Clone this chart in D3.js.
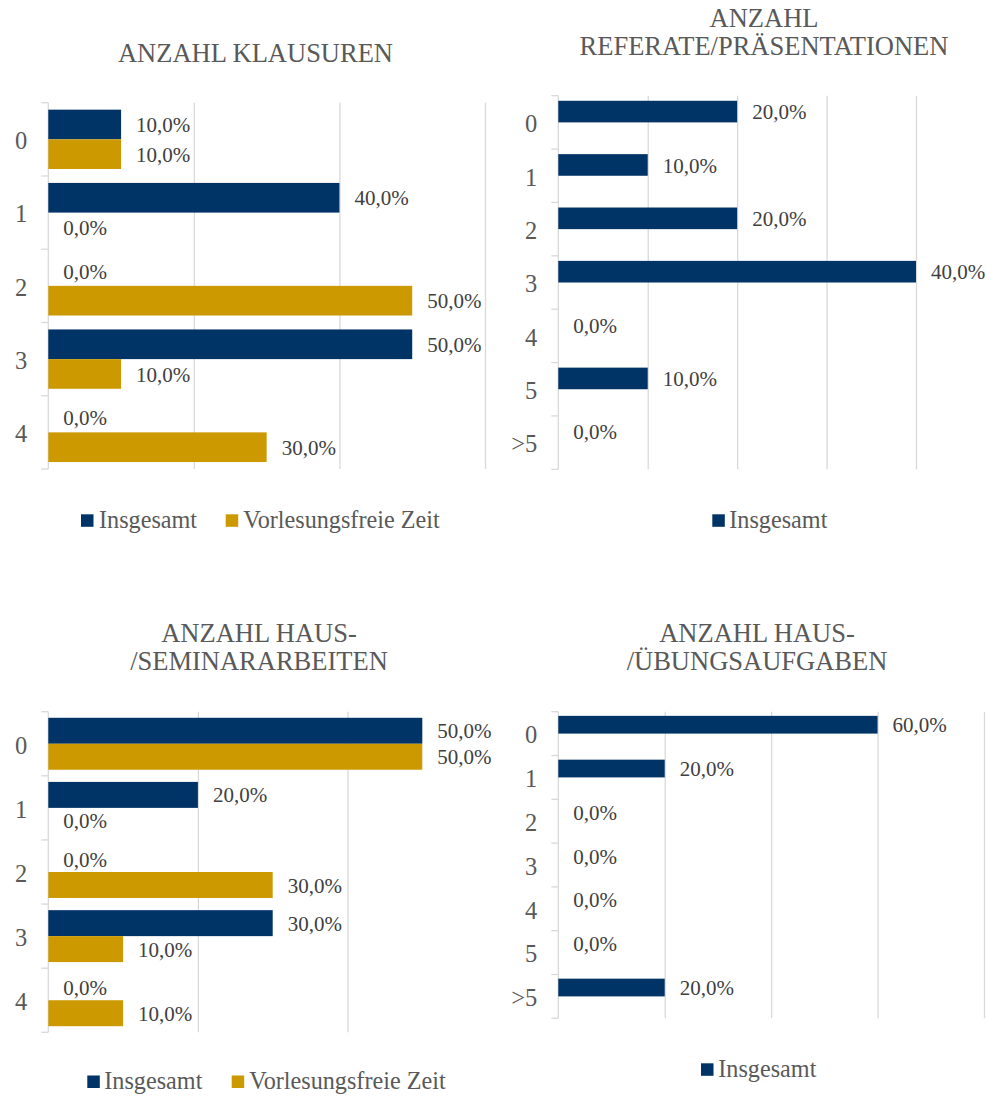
<!DOCTYPE html>
<html>
<head>
<meta charset="utf-8">
<title></title>
<script src="https://cdn.jsdelivr.net/npm/d3@7"></script>
<style type="text/css">
	body { margin: 0; background: #fff; }
	text { font-family: "Liberation Serif", "Times New Roman", Times, serif; }
	.grid line { stroke: #d9d9d9; stroke-width: 1.3; }
	.grid .domain { display: none; }
	.cat .domain { display: none; }
	.cat text { fill: #595959; font-size: 24.5px; }
</style>
</head>
<body>
<script type="text/javascript">

// data
var seriesNames = ["Insgesamt", "Vorlesungsfreie Zeit"];
var seriesColors = ["#003366", "#cc9900"];

var klausurenCats = ["0", "1", "2", "3", "4"];
var klausurenInsg = [0.10, 0.40, 0.00, 0.50, 0.00];
var klausurenVorl = [0.10, 0.00, 0.50, 0.10, 0.30];

var referateCats = ["0", "1", "2", "3", "4", "5", ">5"];
var referateInsg = [0.20, 0.10, 0.20, 0.40, 0.00, 0.10, 0.00];

var hausarbCats = ["0", "1", "2", "3", "4"];
var hausarbInsg = [0.50, 0.20, 0.00, 0.30, 0.00];
var hausarbVorl = [0.50, 0.00, 0.30, 0.10, 0.10];

var uebungCats = ["0", "1", "2", "3", "4", "5", ">5"];
var uebungInsg = [0.60, 0.20, 0.00, 0.00, 0.00, 0.00, 0.20];

var width = 986,
	height = 1099;

var svg = d3.select('body').append('svg')
	.attr('width', width)
	.attr('height', height);

var fmt = function(v) { return d3.format(".1f")(v * 100).replace(".", ",") + "%"; };

var panels = [
	{ title: ["ANZAHL KLAUSUREN"], titleX: 255.5, titleY: [61.7],
	  cats: klausurenCats, series: [klausurenInsg, klausurenVorl],
	  max: 0.6, step: 0.2, xr: [48.3, 485], yr: [102.7, 469],
	  legendY: 520.5, legend: [[81, 99], [225.7, 243.3]] },
	{ title: ["ANZAHL", "REFERATE/PRÄSENTATIONEN"], titleX: 764, titleY: [26.7, 55],
	  cats: referateCats, series: [referateInsg, null],
	  max: 0.4, step: 0.1, xr: [558.3, 916], yr: [95.7, 469.3],
	  legendY: 520.5, legend: [[712.3, 729.3]] },
	{ title: ["ANZAHL HAUS-", "/SEMINARARBEITEN"], titleX: 259, titleY: [641.7, 670],
	  cats: hausarbCats, series: [hausarbInsg, hausarbVorl],
	  max: 0.5, step: 0.2, xr: [48.3, 422.3], yr: [711.7, 1032.3],
	  legendY: 1081.7, legend: [[87.3, 104.3], [231.7, 249.3]] },
	{ title: ["ANZAHL HAUS-", "/ÜBUNGSAUFGABEN"], titleX: 757, titleY: [641.7, 670],
	  cats: uebungCats, series: [uebungInsg, null],
	  max: 0.8, step: 0.2, xr: [558.3, 984], yr: [711.7, 1018.3],
	  legendY: 1069.5, legend: [[701, 718.3]] }
];

panels.forEach(function(p) {
	var g = svg.append('g');

	var x = d3.scaleLinear().domain([0, p.max]).range(p.xr);
	var y = d3.scaleBand().domain(p.cats).range(p.yr);
	// two slots per category, group takes about 81% of the band
	var slot = d3.scaleBand().domain([0, 1])
		.range([y.bandwidth() * 0.095, y.bandwidth() * 0.905]);

	// vertical gridlines
	var gridTicks = d3.range(p.step, p.max + 1e-9, p.step);
	g.append('g')
		.attr('class', 'grid')
		.attr('transform', 'translate(0,' + p.yr[0] + ')')
		.call(d3.axisBottom(x).tickValues(gridTicks)
			.tickSize(p.yr[1] - p.yr[0]).tickFormat(''));

	// axis line + tick marks at band edges
	g.append('line')
		.attr('x1', x(0)).attr('x2', x(0))
		.attr('y1', p.yr[0]).attr('y2', p.yr[1])
		.style('stroke', '#d9d9d9').style('stroke-width', 1.3);
	var edges = p.cats.map(function(c) { return y(c); }).concat([p.yr[1]]);
	g.selectAll('.edge')
		.data(edges)
		.enter().append('line')
		.attr('x1', x(0) - 7).attr('x2', x(0))
		.attr('y1', function(d) { return d; }).attr('y2', function(d) { return d; })
		.style('stroke', '#d9d9d9').style('stroke-width', 1.3);

	// category labels
	g.append('g')
		.attr('class', 'cat')
		.attr('transform', 'translate(' + x(0) + ',0)')
		.call(d3.axisLeft(y).tickSize(0).tickPadding(21))
		.selectAll('text').attr('dy', '0.4em');

	// bars and labels
	p.series.forEach(function(vals, si) {
		if (!vals) return;
		var rows = p.cats.map(function(c, i) { return { cat: c, v: vals[i] }; });

		g.selectAll('.bar' + si)
			.data(rows)
			.enter().append('rect')
			.attr('x', x(0))
			.attr('y', function(d) { return y(d.cat) + slot(si); })
			.attr('width', function(d) { return x(d.v) - x(0); })
			.attr('height', slot.bandwidth())
			.attr('fill', seriesColors[si]);

		g.selectAll('.lab' + si)
			.data(rows)
			.enter().append('text')
			.attr('x', function(d) { return x(d.v) + 15; })
			.attr('y', function(d) { return y(d.cat) + slot(si) + slot.bandwidth() / 2; })
			.attr('dy', '0.36em')
			.style('font-size', '21px')
			.style('fill', '#404040')
			.text(function(d) { return fmt(d.v); });
	});

	// title
	g.selectAll('.title')
		.data(p.title)
		.enter().append('text')
		.attr('x', p.titleX)
		.attr('y', function(d, i) { return p.titleY[i]; })
		.attr('text-anchor', 'middle')
		.style('font-size', '26.5px')
		.style('fill', '#595959')
		.text(function(d) { return d; });

	// legend
	var leg = g.selectAll('.leg')
		.data(p.legend)
		.enter().append('g');
	leg.append('rect')
		.attr('x', function(d) { return d[0]; })
		.attr('y', p.legendY - 6.2)
		.attr('width', 12.5).attr('height', 12.5)
		.attr('fill', function(d, i) { return seriesColors[i]; });
	leg.append('text')
		.attr('x', function(d) { return d[1]; })
		.attr('y', p.legendY + 7.5)
		.style('font-size', '24.2px')
		.style('fill', '#595959')
		.text(function(d, i) { return seriesNames[i]; });
});

</script>
</body>
</html>
